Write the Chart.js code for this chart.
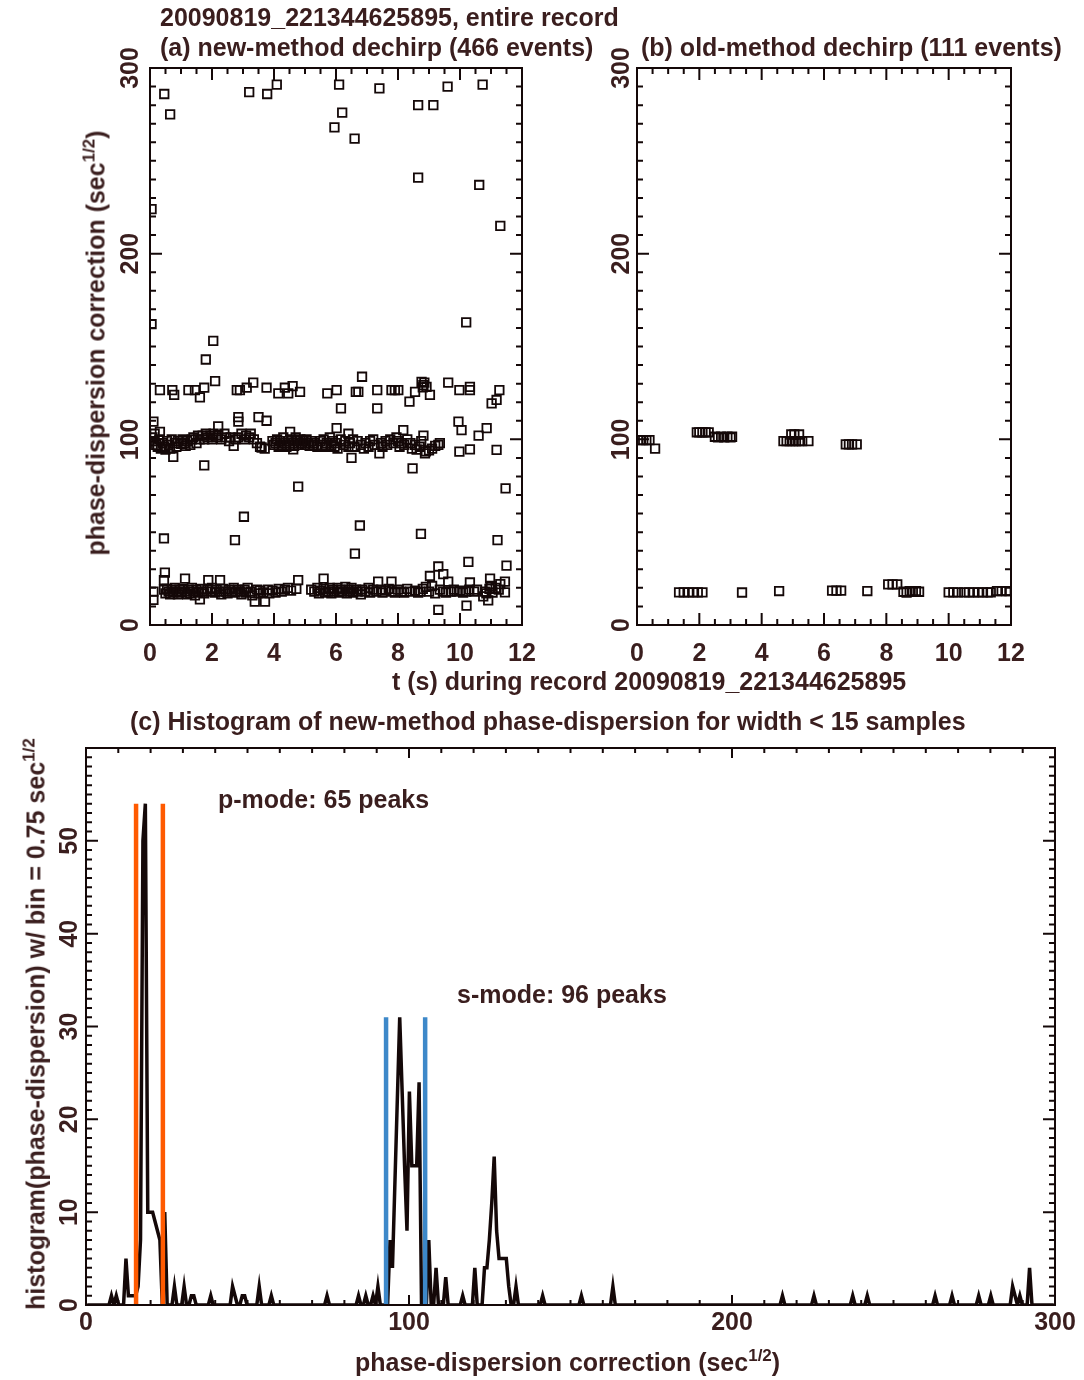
<!DOCTYPE html>
<html>
<head>
<meta charset="utf-8">
<script src="https://cdn.jsdelivr.net/npm/chart.js@4.4.1/dist/chart.umd.min.js"></script>
<style>
  body { margin: 0; background: #fff; }
  #wrap { position: relative; width: 1084px; height: 1380px; overflow: hidden;
          font-family: 'Liberation Sans', Arial, sans-serif; font-weight: bold; color: #3a1e1e; }
  canvas { position: absolute; }
  .t { position: absolute; white-space: nowrap; font-size: 25px; line-height: 25px; }
  .t sup { font-size: 17px; line-height: 0; vertical-align: 10px; }
  .rot { transform: translate(-50%, -50%) rotate(-90deg); }
</style>
</head>
<body>
<div id="wrap">
  <canvas id="ca" width="560" height="700" style="left:0;top:0"></canvas>
  <canvas id="cb" width="524" height="700" style="left:560px;top:0"></canvas>
  <canvas id="cc" width="1084" height="680" style="left:0;top:700px"></canvas>

  <div class="t" style="left:160px;top:5px">20090819_221344625895, entire record</div>
  <div class="t" style="left:160px;top:35px">(a) new-method dechirp (466 events)</div>
  <div class="t" style="left:641px;top:35px">(b) old-method dechirp (111 events)</div>
  <div class="t rot" style="left:96px;top:343px">phase-dispersion correction (sec<sup>1/2</sup>)</div>
  <div class="t" style="left:392px;top:669px">t (s) during record 20090819_221344625895</div>
  <div class="t" style="left:130px;top:709px">(c) Histogram of new-method phase-dispersion for width &lt; 15 samples</div>
  <div class="t" style="left:218px;top:787px">p-mode: 65 peaks</div>
  <div class="t" style="left:457px;top:982px">s-mode: 96 peaks</div>
  <div class="t rot" style="left:36px;top:1024px">histogram(phase-dispersion) w/ bin = 0.75 sec<sup>1/2</sup></div>
  <div class="t" style="left:355px;top:1350px">phase-dispersion correction (sec<sup>1/2</sup>)</div>
</div>

<script>
// ---- panel (a): new-method dechirp, t (s) vs phase-dispersion
const tA = [
  // high outliers
  0.46, 0.65, 3.2, 3.78, 4.09, 6.1, 6.2, 5.95, 6.6, 7.4, 8.65, 9.14, 9.6, 10.73, 8.65, 10.62, 11.3, 0.05, 0.05, 10.2, 2.04, 1.8,
  // band ~126
  0.32, 0.72, 0.78, 1.24, 1.45, 1.61, 1.75, 2.1, 2.8, 2.9, 3.12, 3.33, 3.76, 4.14, 4.35, 4.46, 4.6, 4.84, 5.72, 6.02, 6.16, 6.64,
  6.72, 6.84, 7.33, 7.33, 7.79, 7.9, 8.01, 8.37, 8.55, 8.76, 8.82, 8.92, 8.85, 8.8, 9.03, 9.62, 9.98, 10.32, 10.32, 11.02, 11.18, 11.27,
  // scattered around band ~100
  0.11, 0.32, 2.2, 2.85, 2.85, 3.5, 3.76, 4.52, 6.02, 6.4, 8.17, 8.82, 9.95, 10.05, 10.6, 10.86,
  0.75, 1.75, 3.6, 4.62, 6.5, 7.4, 8.47, 8.87, 9.35, 9.98, 10.32, 11.18,
  // band ~100
  0.08, 0.12, 0.15, 0.2, 0.25, 0.3, 0.35, 0.4, 0.45, 0.5, 0.55, 0.6, 0.65, 0.7, 0.8, 0.85, 0.9, 1.0, 1.05, 1.1, 1.15, 1.2, 1.3, 1.35,
  1.4, 1.5, 1.55, 1.6, 1.7, 1.75, 1.8, 1.85, 1.95, 2.0, 2.05, 2.15, 2.2, 2.3, 2.4, 2.45, 2.55, 2.6, 2.7, 2.75, 2.85, 2.95, 3.05, 3.1,
  3.2, 3.25, 3.35, 3.45, 3.55, 3.7, 3.95, 4.0, 4.05, 4.1, 4.15, 4.2, 4.25, 4.3, 4.35, 4.4, 4.45, 4.5, 4.55, 4.6, 4.65, 4.7, 4.75, 4.8,
  4.85, 4.9, 4.95, 5.0, 5.05, 5.1, 5.15, 5.2, 5.25, 5.3, 5.4, 5.5, 5.55, 5.6, 5.65, 5.7, 5.8, 5.85, 5.9, 5.95, 6.0, 6.05, 6.15, 6.25,
  6.3, 6.4, 6.45, 6.55, 6.6, 6.7, 6.8, 6.9, 6.95, 7.05, 7.1, 7.2, 7.25, 7.45, 7.5, 7.6, 7.65, 7.75, 7.85, 7.95, 8.0, 8.05, 8.1, 8.2,
  8.3, 8.4, 8.45, 8.55, 8.6, 8.7, 8.75, 8.9, 9.0, 9.1, 9.2, 9.3,
  // between the bands
  4.78, 11.47, 3.03, 0.45, 2.74, 6.77, 8.74, 6.61, 11.21, 10.27, 11.5, 9.3, 9.46, 0.48, 0.45,
  // scattered around band ~19
  0.11, 3.38, 3.71, 1.61, 9.3, 10.21, 10.91, 10.75, 1.13, 1.88, 2.26, 4.78, 5.6, 7.36, 7.79, 9.03, 9.62, 10.32, 10.97, 11.45, 11.45,
  // band ~19
  0.11, 0.45, 0.5, 0.55, 0.6, 0.65, 0.7, 0.75, 0.8, 0.85, 0.9, 0.95, 1.0, 1.05, 1.13, 1.2, 1.25, 1.3, 1.35, 1.4, 1.45, 1.5, 1.55,
  1.65, 1.7, 1.75, 1.85, 1.95, 2.0, 2.1, 2.15, 2.25, 2.3, 2.35, 2.45, 2.5, 2.55, 2.65, 2.7, 2.75, 2.85, 2.9, 2.95, 3.05, 3.1, 3.15,
  3.25, 3.3, 3.45, 3.5, 3.55, 3.65, 3.8, 3.85, 3.95, 4.05, 4.15, 4.25, 4.35, 4.45, 4.55, 4.72, 5.2, 5.3, 5.4, 5.45, 5.5, 5.6, 5.65,
  5.75, 5.8, 5.85, 5.9, 5.95, 6.05, 6.1, 6.15, 6.2, 6.3, 6.35, 6.4, 6.45, 6.5, 6.55, 6.65, 6.7, 6.8, 6.85, 6.95, 7.05, 7.1, 7.2,
  7.3, 7.45, 7.5, 7.6, 7.7, 7.8, 7.9, 8.0, 8.1, 8.2, 8.3, 8.4, 8.55, 8.65, 8.72, 8.8, 8.9, 9.0, 9.1, 9.2, 9.35, 9.45, 9.55, 9.7,
  9.8, 9.9, 10.0, 10.1, 10.2, 10.3, 10.45, 10.55, 10.8, 10.85, 10.95, 11.0, 11.05, 11.15, 11.25, 11.3
];
const vA = [
  286, 275, 287, 286, 291, 291, 276, 268, 262, 289, 280, 280, 290, 291, 241, 237, 215, 224, 162, 163, 153, 143,
  126.5, 126.5, 123.9, 126.5, 126.5, 122.6, 127.8, 131.4, 126.5, 126.5, 127.8, 130.5, 127.8, 124.8, 127.8, 124.8, 128.7, 125.6, 124.8, 126.5, 116.7, 125.6,
  125.6, 133.7, 126.5, 116.7, 126.5, 126.5, 126.5, 120.3, 125.6, 131, 129.2, 128.3, 130.5, 128, 123.9, 130.5, 126.5, 128.3, 126.5, 119.4, 121.2, 126.5,
  109.5, 104, 107, 112, 109.5, 112, 110, 104, 106, 103, 105, 102, 109.5, 105, 102, 106,
  90.6, 86, 95.6, 94.6, 90, 92.4, 84.4, 92.4, 98, 93.4, 94.6, 94.3,
  101, 99, 103, 97, 96, 100, 95, 98, 96, 94.5, 99, 97, 95, 100, 98, 96, 99, 97.5, 100, 98, 96.5, 99, 97, 100,
  101, 98, 102, 100, 102, 100, 103, 101, 102, 100, 103, 101, 102, 100, 103, 101, 99, 101, 96.5, 100, 101, 103, 100, 102,
  101, 103, 100, 98, 96, 95, 99, 97, 98, 100, 96, 99, 97, 101, 98, 96, 99, 97, 100, 98, 96.5, 101, 99, 97,
  100, 98, 99, 97, 100, 98, 96.5, 99, 97, 98, 96, 99, 97, 100, 96, 98, 101, 97, 99, 96, 98, 95, 100, 97,
  99, 96, 98, 100, 96, 99, 97, 95, 98, 96, 99, 100, 97, 98, 96, 99, 97, 100, 98, 101, 99, 96, 98, 97,
  100, 98, 95, 97, 94.5, 96, 99, 93.5, 94, 95, 96.5, 97,
  74.5, 73.6, 58.3, 46.6, 45.7, 53.6, 49.1, 38.4, 45.7, 34, 32, 31.5, 27.4, 28.2, 24.2,
  13.5, 12.6, 12.6, 13.8, 8.2, 10.4, 13.3, 15.4, 25, 24.2, 24.2, 24.2, 25, 23.4, 23.4, 26.4, 23.4, 22.9, 25, 23.4, 17.6,
  18, 19, 17, 19.5, 18, 16.5, 19, 17.5, 20, 18, 16.5, 19, 17.5, 19.5, 18, 16.5, 19, 17, 20, 18, 16, 19, 17.5,
  19.5, 18, 17, 19, 18, 20, 17.5, 19, 18, 16.5, 19.5, 18, 17, 19, 18, 20, 17.5, 19, 18, 16.5, 19, 17.5, 20,
  18, 16, 19, 17, 18.5, 17.5, 19, 17, 18.5, 17.5, 19.5, 18, 19, 20, 18.5, 19.5, 19, 18, 20, 17, 18.5, 19.5, 17.5,
  18, 20, 17, 19, 18, 20, 17.5, 19, 18, 20.5, 17, 19, 18, 20, 17.5, 19, 18, 16.5, 19, 18, 20, 17.5, 19,
  18, 19, 17.5, 18.5, 19.5, 18, 17.5, 19, 18, 17.5, 19.5, 18, 18.5, 17.5, 18, 19.5, 20.5, 18, 21, 17, 19, 18, 17.5, 18,
  19, 18, 18.5, 17.5, 18, 19, 18, 19, 18, 17, 19.5, 21, 17.5, 20, 19, 22
];

// ---- panel (b): old-method dechirp
const tB = [
  0.1, 0.2, 0.3, 0.4, 0.58,
  1.92, 2.0, 2.1, 2.2, 2.3,
  2.5, 2.6, 2.7, 2.8, 2.9, 3.0, 3.05,
  4.7, 4.8, 4.9, 5.0, 5.1, 5.2, 5.3, 5.5, 4.95, 5.05, 5.2,
  6.7, 6.8, 6.9, 7.05,
  1.35, 1.5, 1.65, 1.8, 1.95, 2.1,
  3.37, 4.56,
  6.26, 6.4, 6.55, 7.39,
  8.06, 8.2, 8.35,
  8.55, 8.65, 8.75, 8.85, 8.95, 9.05,
  10.0, 10.15, 10.3, 10.5, 10.65, 10.8, 10.95, 11.1, 11.25, 11.35,
  11.55, 11.7, 11.85, 11.95
];
const vB = [
  99.6, 99.6, 99.6, 99.6, 95,
  103.8, 103.8, 103.8, 103.8, 103.8,
  101.4, 101, 101.4, 101, 101.4, 101, 101.4,
  99, 99, 99, 99, 99, 99, 99, 99, 102.6, 102.6, 102.6,
  97.3, 97.3, 97.3, 97.3,
  17.6, 17.6, 17.6, 17.6, 17.6, 17.6,
  17.5, 18.3,
  18.5, 18.5, 18.5, 18.3,
  21.9, 21.9, 21.9,
  17.9, 17.5, 18.2, 17.9, 18.3, 17.9,
  17.6, 17.6, 17.6, 17.6, 17.6, 17.6, 17.6, 17.6, 17.6, 17.6,
  18.3, 18.3, 18.3, 18.3
];

// ---- panel (c): histogram, bin = 0.75; only non-empty bins listed (bin centres)
const binWidth = 0.75;
const nBins = 400;
const histCenters = [
  7.875, 9.375, 12.375, 13.125, 13.875, 14.625, 15.375, 16.125, 16.875, 17.625, 18.375, 19.125, 19.875, 20.625,
  21.375, 22.125, 22.875, 24.375, 27.375, 30.375, 32.625, 33.375, 38.625, 45.375, 46.125, 48.375, 49.125,
  53.625, 57.375, 74.625, 84.375, 86.625, 88.875, 90.375,
  94.125, 94.875, 95.625, 96.375, 97.125, 97.875, 98.625, 99.375, 100.125, 100.875, 101.625, 102.375, 103.125,
  106.125, 108.375, 111.375, 116.625, 120.375,
  123.375, 124.125, 124.875, 125.625, 126.375, 127.125, 127.875, 128.625, 129.375, 130.125, 130.875, 133.125,
  141.375, 153.375, 163.125, 215.625, 225.375, 237.375, 241.875, 262.875, 268.125, 276.375, 280.125,
  286.875, 287.625, 289.125, 291.875
];
const histCounts = [
  1, 1, 5, 1, 1, 1, 1, 2, 7, 50, 54, 10, 10, 10,
  9, 8, 7, 10, 2, 2, 1, 1, 1, 2, 1, 1, 1,
  2, 1, 1, 1, 1, 1, 2,
  7, 4, 13, 22, 31, 23, 15, 8, 23, 15, 15, 15, 24,
  7, 4, 3, 1, 4,
  4, 4, 7, 11, 16, 8, 5, 5, 5, 5, 2, 2,
  1, 1, 2, 1, 1, 1, 1, 1, 1, 1, 1,
  2, 1, 1, 4
];
// mode windows (vertical marker lines)
const pModeEdges = [15.5, 23.8];
const pModeTop = 54;
const sModeEdges = [92.9, 105.0];
const sModeTop = 31;

const axisColor = '#140808';
const labelColor = '#3a1e1e';
const fontFam = "'Liberation Sans', Arial, sans-serif";

const histogram = new Array(nBins).fill(0);
histCenters.forEach(function(c, i){ histogram[Math.round(c / binWidth - 0.5)] = histCounts[i]; });
const histPoints = histogram.map(function(n, i){ return {x: (i + 0.5) * binWidth, y: n}; });

// box with inward ticks on all sides, rotated y labels
const boxPlugin = {
  id: 'box',
  afterDraw(chart, args, o) {
    const ctx = chart.ctx, a = chart.chartArea, x = chart.scales.x, y = chart.scales.y;
    ctx.save();
    ctx.strokeStyle = axisColor;
    ctx.lineWidth = 2;
    ctx.beginPath();
    for (let v = x.min; v <= x.max + 1e-9; v += o.xMinor) {
      const px = x.getPixelForValue(v);
      const big = Math.abs(v / o.xMajor - Math.round(v / o.xMajor)) < 1e-6;
      const L = big ? o.xLen[0] : o.xLen[1];
      ctx.moveTo(px, a.bottom); ctx.lineTo(px, a.bottom - L);
      ctx.moveTo(px, a.top); ctx.lineTo(px, a.top + L);
    }
    for (let v = y.min; v <= y.max + 1e-9; v += o.yMinor) {
      const py = y.getPixelForValue(v);
      const big = Math.abs(v / o.yMajor - Math.round(v / o.yMajor)) < 1e-6;
      const L = big ? o.yLen[0] : o.yLen[1];
      ctx.moveTo(a.left, py); ctx.lineTo(a.left + L, py);
      ctx.moveTo(a.right, py); ctx.lineTo(a.right - L, py);
    }
    ctx.stroke();
    ctx.strokeRect(a.left, a.top, a.right - a.left, a.bottom - a.top);
    ctx.fillStyle = labelColor;
    ctx.font = 'bold 25px ' + fontFam;
    ctx.textAlign = 'center';
    ctx.textBaseline = 'middle';
    o.yLabels.forEach(function(v){
      ctx.save();
      ctx.translate(o.yLabelX, y.getPixelForValue(v));
      ctx.rotate(-Math.PI / 2);
      ctx.fillText(String(v), 0, 0);
      ctx.restore();
    });
    ctx.restore();
  }
};

function scatterPanel(id, ts, vs, yW, pad, yLabelX){
  return new Chart(document.getElementById(id), {
    type: 'scatter',
    data: {
      datasets: [{
        data: ts.map(function(t, i){ return {x: t, y: vs[i]}; }),
        pointStyle: 'rect',
        pointRadius: 6,
        borderWidth: 1.8,
        borderColor: axisColor,
        backgroundColor: 'rgba(0,0,0,0)'
      }]
    },
    options: {
      responsive: false,
      animation: false,
      layout: { padding: pad },
      plugins: {
        legend: { display: false },
        tooltip: { enabled: false },
        box: { xMinor: 0.5, xMajor: 2, yMinor: 10, yMajor: 100, xLen: [12, 6], yLen: [12, 6],
               yLabels: [0, 100, 200, 300], yLabelX: yLabelX }
      },
      scales: {
        x: { type: 'linear', min: 0, max: 12,
             grid: { display: false, drawTicks: false }, border: { display: false },
             ticks: { stepSize: 2, padding: 14, maxRotation: 0, color: labelColor,
                      font: { size: 25, weight: 'bold', family: fontFam } },
             afterFit: function(s){ s.height = 75; } },
        y: { type: 'linear', min: 0, max: 300,
             grid: { display: false }, border: { display: false },
             ticks: { display: false },
             afterFit: function(s){ s.width = yW; } }
      }
    },
    plugins: [boxPlugin]
  });
}

scatterPanel('ca', tA, vA, 150, { left: 0, top: 68, right: 38, bottom: 0 }, 131);
scatterPanel('cb', tB, vB, 77, { left: 0, top: 68, right: 73, bottom: 0 }, 62);

new Chart(document.getElementById('cc'), {
  type: 'scatter',
  data: {
    datasets: [
      { data: [{x: pModeEdges[0], y: 0}, {x: pModeEdges[0], y: pModeTop}], showLine: true, pointRadius: 0, borderWidth: 4.5, borderColor: '#ff5a00' },
      { data: [{x: pModeEdges[1], y: 0}, {x: pModeEdges[1], y: pModeTop}], showLine: true, pointRadius: 0, borderWidth: 4.5, borderColor: '#ff5a00' },
      { data: [{x: sModeEdges[0], y: 0}, {x: sModeEdges[0], y: sModeTop}], showLine: true, pointRadius: 0, borderWidth: 4.5, borderColor: '#3d88c9' },
      { data: [{x: sModeEdges[1], y: 0}, {x: sModeEdges[1], y: sModeTop}], showLine: true, pointRadius: 0, borderWidth: 4.5, borderColor: '#3d88c9' },
      { data: histPoints, showLine: true, pointRadius: 0, borderWidth: 3.5, borderColor: axisColor, tension: 0 }
    ]
  },
  options: {
    responsive: false,
    animation: false,
    layout: { padding: { left: 0, top: 48, right: 29, bottom: 0 } },
    plugins: {
      legend: { display: false },
      tooltip: { enabled: false },
      box: { xMinor: 10, xMajor: 100, yMinor: 1, yMajor: 10, xLen: [10, 5], yLen: [12, 6],
             yLabels: [0, 10, 20, 30, 40, 50], yLabelX: 70 }
    },
    scales: {
      x: { type: 'linear', min: 0, max: 300,
           grid: { display: false, drawTicks: false }, border: { display: false },
           ticks: { stepSize: 100, padding: 3, maxRotation: 0, color: labelColor,
                    font: { size: 25, weight: 'bold', family: fontFam } },
           afterFit: function(s){ s.height = 75; } },
      y: { type: 'linear', min: 0, max: 60,
           grid: { display: false }, border: { display: false },
           ticks: { display: false },
           afterFit: function(s){ s.width = 86; } }
    }
  },
  plugins: [boxPlugin]
});
</script>
</body>
</html>
